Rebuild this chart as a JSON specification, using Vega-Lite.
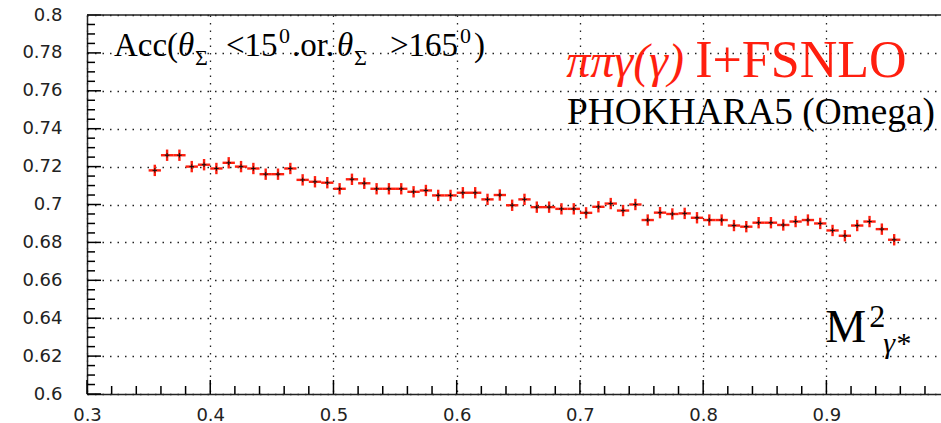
{
  "$schema": "https://vega.github.io/schema/vega-lite/v6.json",
  "width": 854,
  "height": 379,
  "autosize": {"type": "none"},
  "padding": {"left": 87, "right": 0, "top": 15, "bottom": 29},
  "background": "white",
  "config": {"view": {"stroke": null}},
  "datasets": {
    "pts": [
      {"x": 0.355, "y": 0.718, "ex": 0.005, "ey": 0.003},
      {"x": 0.365, "y": 0.726, "ex": 0.005, "ey": 0.003},
      {"x": 0.375, "y": 0.726, "ex": 0.005, "ey": 0.003},
      {"x": 0.385, "y": 0.720, "ex": 0.005, "ey": 0.003},
      {"x": 0.395, "y": 0.721, "ex": 0.005, "ey": 0.003},
      {"x": 0.405, "y": 0.719, "ex": 0.005, "ey": 0.003},
      {"x": 0.415, "y": 0.722, "ex": 0.005, "ey": 0.003},
      {"x": 0.425, "y": 0.720, "ex": 0.005, "ey": 0.003},
      {"x": 0.435, "y": 0.719, "ex": 0.005, "ey": 0.003},
      {"x": 0.445, "y": 0.716, "ex": 0.005, "ey": 0.003},
      {"x": 0.455, "y": 0.716, "ex": 0.005, "ey": 0.003},
      {"x": 0.465, "y": 0.719, "ex": 0.005, "ey": 0.003},
      {"x": 0.475, "y": 0.713, "ex": 0.005, "ey": 0.003},
      {"x": 0.485, "y": 0.712, "ex": 0.005, "ey": 0.003},
      {"x": 0.495, "y": 0.7115, "ex": 0.005, "ey": 0.003},
      {"x": 0.505, "y": 0.7083, "ex": 0.005, "ey": 0.003},
      {"x": 0.515, "y": 0.7133, "ex": 0.005, "ey": 0.003},
      {"x": 0.525, "y": 0.7112, "ex": 0.005, "ey": 0.003},
      {"x": 0.535, "y": 0.7083, "ex": 0.005, "ey": 0.003},
      {"x": 0.545, "y": 0.7083, "ex": 0.005, "ey": 0.003},
      {"x": 0.555, "y": 0.7083, "ex": 0.005, "ey": 0.003},
      {"x": 0.565, "y": 0.7067, "ex": 0.005, "ey": 0.003},
      {"x": 0.575, "y": 0.7074, "ex": 0.005, "ey": 0.003},
      {"x": 0.585, "y": 0.7048, "ex": 0.005, "ey": 0.003},
      {"x": 0.595, "y": 0.7048, "ex": 0.005, "ey": 0.003},
      {"x": 0.605, "y": 0.7062, "ex": 0.005, "ey": 0.003},
      {"x": 0.615, "y": 0.7062, "ex": 0.005, "ey": 0.003},
      {"x": 0.625, "y": 0.7027, "ex": 0.005, "ey": 0.003},
      {"x": 0.635, "y": 0.7050, "ex": 0.005, "ey": 0.003},
      {"x": 0.645, "y": 0.6996, "ex": 0.005, "ey": 0.003},
      {"x": 0.655, "y": 0.7027, "ex": 0.005, "ey": 0.003},
      {"x": 0.665, "y": 0.6986, "ex": 0.005, "ey": 0.003},
      {"x": 0.675, "y": 0.6986, "ex": 0.005, "ey": 0.003},
      {"x": 0.685, "y": 0.6977, "ex": 0.005, "ey": 0.003},
      {"x": 0.695, "y": 0.6977, "ex": 0.005, "ey": 0.003},
      {"x": 0.705, "y": 0.6956, "ex": 0.005, "ey": 0.003},
      {"x": 0.715, "y": 0.6988, "ex": 0.005, "ey": 0.003},
      {"x": 0.725, "y": 0.7005, "ex": 0.005, "ey": 0.003},
      {"x": 0.735, "y": 0.6968, "ex": 0.005, "ey": 0.003},
      {"x": 0.745, "y": 0.7000, "ex": 0.005, "ey": 0.003},
      {"x": 0.755, "y": 0.6918, "ex": 0.005, "ey": 0.003},
      {"x": 0.765, "y": 0.6957, "ex": 0.005, "ey": 0.003},
      {"x": 0.775, "y": 0.6950, "ex": 0.005, "ey": 0.003},
      {"x": 0.785, "y": 0.6953, "ex": 0.005, "ey": 0.003},
      {"x": 0.795, "y": 0.6930, "ex": 0.005, "ey": 0.003},
      {"x": 0.805, "y": 0.6918, "ex": 0.005, "ey": 0.003},
      {"x": 0.815, "y": 0.6918, "ex": 0.005, "ey": 0.003},
      {"x": 0.825, "y": 0.6889, "ex": 0.005, "ey": 0.003},
      {"x": 0.835, "y": 0.6883, "ex": 0.005, "ey": 0.003},
      {"x": 0.845, "y": 0.6904, "ex": 0.005, "ey": 0.003},
      {"x": 0.855, "y": 0.6904, "ex": 0.005, "ey": 0.003},
      {"x": 0.865, "y": 0.6892, "ex": 0.005, "ey": 0.003},
      {"x": 0.875, "y": 0.6910, "ex": 0.005, "ey": 0.003},
      {"x": 0.885, "y": 0.6918, "ex": 0.005, "ey": 0.003},
      {"x": 0.895, "y": 0.6900, "ex": 0.005, "ey": 0.003},
      {"x": 0.905, "y": 0.6863, "ex": 0.005, "ey": 0.003},
      {"x": 0.915, "y": 0.6835, "ex": 0.005, "ey": 0.003},
      {"x": 0.925, "y": 0.6889, "ex": 0.005, "ey": 0.003},
      {"x": 0.935, "y": 0.6910, "ex": 0.005, "ey": 0.003},
      {"x": 0.945, "y": 0.6870, "ex": 0.005, "ey": 0.003},
      {"x": 0.955, "y": 0.6814, "ex": 0.005, "ey": 0.003}
    ],
    "xmaj": [{"v": 0.3}, {"v": 0.4}, {"v": 0.5}, {"v": 0.6}, {"v": 0.7}, {"v": 0.8}, {"v": 0.9}],
    "xmin": [{"v": 0.32}, {"v": 0.34}, {"v": 0.36}, {"v": 0.38}, {"v": 0.42}, {"v": 0.44}, {"v": 0.46}, {"v": 0.48}, {"v": 0.52}, {"v": 0.54}, {"v": 0.56}, {"v": 0.58}, {"v": 0.62}, {"v": 0.64}, {"v": 0.66}, {"v": 0.68}, {"v": 0.72}, {"v": 0.74}, {"v": 0.76}, {"v": 0.78}, {"v": 0.82}, {"v": 0.84}, {"v": 0.86}, {"v": 0.88}, {"v": 0.92}, {"v": 0.94}, {"v": 0.96}, {"v": 0.98}],
    "ymaj": [{"v": 0.6}, {"v": 0.62}, {"v": 0.64}, {"v": 0.66}, {"v": 0.68}, {"v": 0.7}, {"v": 0.72}, {"v": 0.74}, {"v": 0.76}, {"v": 0.78}, {"v": 0.8}],
    "ymin": [{"v": 0.605}, {"v": 0.61}, {"v": 0.615}, {"v": 0.625}, {"v": 0.63}, {"v": 0.635}, {"v": 0.645}, {"v": 0.65}, {"v": 0.655}, {"v": 0.665}, {"v": 0.67}, {"v": 0.675}, {"v": 0.685}, {"v": 0.69}, {"v": 0.695}, {"v": 0.705}, {"v": 0.71}, {"v": 0.715}, {"v": 0.725}, {"v": 0.73}, {"v": 0.735}, {"v": 0.745}, {"v": 0.75}, {"v": 0.755}, {"v": 0.765}, {"v": 0.77}, {"v": 0.775}, {"v": 0.785}, {"v": 0.79}, {"v": 0.795}]
  },
  "resolve": {"axis": {"x": "independent", "y": "independent"}},
  "layer": [
    {
      "data": {"name": "pts"},
      "mark": {"type": "errorbar", "color": "#ff1f0f", "thickness": 2.4},
      "encoding": {
        "x": {"field": "x", "type": "quantitative",
          "scale": {"domain": [0.3, 0.993], "zero": false, "nice": false},
          "axis": {"orient": "bottom", "title": null, "values": [0.3, 0.4, 0.5, 0.6, 0.7, 0.8, 0.9], "format": ".1f",
            "ticks": false, "domainColor": "#222", "domainWidth": 1.5,
            "labelFont": "DejaVu Sans", "labelFontSize": 18, "labelColor": "#222", "labelPadding": 12,
            "grid": true, "gridColor": "#222", "gridDash": [1.5, 6], "gridWidth": 1.3, "labelFlush": false}},
        "xError": {"field": "ex"},
        "y": {"field": "y", "type": "quantitative",
          "scale": {"domain": [0.6, 0.8], "zero": false, "nice": false},
          "axis": {"orient": "left", "title": null, "values": [0.6, 0.62, 0.64, 0.66, 0.68, 0.7, 0.72, 0.74, 0.76, 0.78, 0.8], "format": ".2~f",
            "ticks": false, "domainColor": "#222", "domainWidth": 1.5,
            "labelFont": "DejaVu Sans", "labelFontSize": 18, "labelColor": "#222", "labelPadding": 25,
            "grid": true, "gridColor": "#222", "gridDash": [1.5, 6], "gridWidth": 1.3, "labelFlush": false}}
      }
    },
    {
      "data": {"name": "pts"},
      "mark": {"type": "errorbar", "color": "#ff1f0f", "thickness": 2.4},
      "encoding": {
        "x": {"field": "x", "type": "quantitative", "scale": {"domain": [0.3, 0.993], "zero": false, "nice": false}, "axis": null},
        "y": {"field": "y", "type": "quantitative", "scale": {"domain": [0.6, 0.8], "zero": false, "nice": false}, "axis": null},
        "yError": {"field": "ey"}
      }
    },
    {
      "data": {"name": "pts"},
      "mark": {"type": "point", "shape": "M-1,0L1,0M0,-1L0,1", "filled": false, "stroke": "#111", "strokeWidth": 1, "size": 20, "opacity": 1},
      "encoding": {
        "x": {"field": "x", "type": "quantitative", "scale": {"domain": [0.3, 0.993], "zero": false, "nice": false}, "axis": null},
        "y": {"field": "y", "type": "quantitative", "scale": {"domain": [0.6, 0.8], "zero": false, "nice": false}, "axis": null}
      }
    },
    {
      "data": {"name": "xmaj"},
      "mark": {"type": "rule", "color": "#000", "strokeWidth": 1.5},
      "encoding": {
        "x": {"field": "v", "type": "quantitative", "scale": {"domain": [0.3, 0.993], "zero": false, "nice": false}, "axis": null},
        "y": {"datum": 0.6, "type": "quantitative", "scale": {"domain": [0.6, 0.8], "zero": false, "nice": false}, "axis": null},
        "y2": {"datum": 0.60739}
      }
    },
    {
      "data": {"name": "xmin"},
      "mark": {"type": "rule", "color": "#000", "strokeWidth": 1.5},
      "encoding": {
        "x": {"field": "v", "type": "quantitative", "scale": {"domain": [0.3, 0.993], "zero": false, "nice": false}, "axis": null},
        "y": {"datum": 0.6, "type": "quantitative", "scale": {"domain": [0.6, 0.8], "zero": false, "nice": false}, "axis": null},
        "y2": {"datum": 0.60422}
      }
    },
    {
      "data": {"name": "ymaj"},
      "mark": {"type": "rule", "color": "#000", "strokeWidth": 1.5},
      "encoding": {
        "y": {"field": "v", "type": "quantitative", "scale": {"domain": [0.6, 0.8], "zero": false, "nice": false}, "axis": null},
        "x": {"datum": 0.3, "type": "quantitative", "scale": {"domain": [0.3, 0.993], "zero": false, "nice": false}, "axis": null},
        "x2": {"datum": 0.31136}
      }
    },
    {
      "data": {"name": "ymin"},
      "mark": {"type": "rule", "color": "#000", "strokeWidth": 1.5},
      "encoding": {
        "y": {"field": "v", "type": "quantitative", "scale": {"domain": [0.6, 0.8], "zero": false, "nice": false}, "axis": null},
        "x": {"datum": 0.3, "type": "quantitative", "scale": {"domain": [0.3, 0.993], "zero": false, "nice": false}, "axis": null},
        "x2": {"datum": 0.3065}
      }
    },
    {
      "data": {"values": [{}]},
      "mark": {"type": "rule", "color": "#222", "strokeWidth": 1.5},
      "encoding": {
        "y": {"datum": 0.8, "type": "quantitative", "scale": {"domain": [0.6, 0.8], "zero": false, "nice": false}, "axis": null}
      }
    },
    {"data": {"values": [{}]}, "mark": {"type": "text", "text": "Acc(", "font": "Liberation Serif", "fontSize": 33, "align": "left", "baseline": "alphabetic", "dx": 0, "color": "black"},
     "encoding": {"x": {"datum": 0.3219, "type": "quantitative", "axis": null}, "y": {"datum": 0.7784, "type": "quantitative", "axis": null}}},
    {"data": {"values": [{}]}, "mark": {"type": "text", "text": "θ", "font": "Liberation Serif", "fontStyle": "italic", "fontSize": 33, "align": "left", "baseline": "alphabetic", "dx": 64, "color": "black"},
     "encoding": {"x": {"datum": 0.3219, "type": "quantitative", "axis": null}, "y": {"datum": 0.7784, "type": "quantitative", "axis": null}}},
    {"data": {"values": [{}]}, "mark": {"type": "text", "text": "Σ", "font": "Liberation Serif", "fontSize": 22, "align": "left", "baseline": "alphabetic", "dx": 81, "dy": 9, "color": "black"},
     "encoding": {"x": {"datum": 0.3219, "type": "quantitative", "axis": null}, "y": {"datum": 0.7784, "type": "quantitative", "axis": null}}},
    {"data": {"values": [{}]}, "mark": {"type": "text", "text": "<15", "font": "Liberation Serif", "fontSize": 33, "align": "left", "baseline": "alphabetic", "dx": 112, "color": "black"},
     "encoding": {"x": {"datum": 0.3219, "type": "quantitative", "axis": null}, "y": {"datum": 0.7784, "type": "quantitative", "axis": null}}},
    {"data": {"values": [{}]}, "mark": {"type": "text", "text": "0", "font": "Liberation Serif", "fontSize": 22, "align": "left", "baseline": "alphabetic", "dx": 165, "dy": -13, "color": "black"},
     "encoding": {"x": {"datum": 0.3219, "type": "quantitative", "axis": null}, "y": {"datum": 0.7784, "type": "quantitative", "axis": null}}},
    {"data": {"values": [{}]}, "mark": {"type": "text", "text": ".or.", "font": "Liberation Serif", "fontSize": 33, "align": "left", "baseline": "alphabetic", "dx": 178, "color": "black"},
     "encoding": {"x": {"datum": 0.3219, "type": "quantitative", "axis": null}, "y": {"datum": 0.7784, "type": "quantitative", "axis": null}}},
    {"data": {"values": [{}]}, "mark": {"type": "text", "text": "θ", "font": "Liberation Serif", "fontStyle": "italic", "fontSize": 33, "align": "left", "baseline": "alphabetic", "dx": 223, "color": "black"},
     "encoding": {"x": {"datum": 0.3219, "type": "quantitative", "axis": null}, "y": {"datum": 0.7784, "type": "quantitative", "axis": null}}},
    {"data": {"values": [{}]}, "mark": {"type": "text", "text": "Σ", "font": "Liberation Serif", "fontSize": 22, "align": "left", "baseline": "alphabetic", "dx": 240, "dy": 9, "color": "black"},
     "encoding": {"x": {"datum": 0.3219, "type": "quantitative", "axis": null}, "y": {"datum": 0.7784, "type": "quantitative", "axis": null}}},
    {"data": {"values": [{}]}, "mark": {"type": "text", "text": ">165", "font": "Liberation Serif", "fontSize": 33, "align": "left", "baseline": "alphabetic", "dx": 276, "color": "black"},
     "encoding": {"x": {"datum": 0.3219, "type": "quantitative", "axis": null}, "y": {"datum": 0.7784, "type": "quantitative", "axis": null}}},
    {"data": {"values": [{}]}, "mark": {"type": "text", "text": "0", "font": "Liberation Serif", "fontSize": 22, "align": "left", "baseline": "alphabetic", "dx": 346, "dy": -13, "color": "black"},
     "encoding": {"x": {"datum": 0.3219, "type": "quantitative", "axis": null}, "y": {"datum": 0.7784, "type": "quantitative", "axis": null}}},
    {"data": {"values": [{}]}, "mark": {"type": "text", "text": ")", "font": "Liberation Serif", "fontSize": 33, "align": "left", "baseline": "alphabetic", "dx": 360, "color": "black"},
     "encoding": {"x": {"datum": 0.3219, "type": "quantitative", "axis": null}, "y": {"datum": 0.7784, "type": "quantitative", "axis": null}}},
    {"data": {"values": [{}]}, "mark": {"type": "text", "text": "ππγ(γ)", "font": "Liberation Serif", "fontStyle": "italic", "fontSize": 48, "align": "left", "baseline": "alphabetic", "color": "#ff1f0f"},
     "encoding": {"x": {"datum": 0.6888, "type": "quantitative", "axis": null}, "y": {"datum": 0.7673, "type": "quantitative", "axis": null}}},
    {"data": {"values": [{}]}, "mark": {"type": "text", "text": "I+FSNLO", "font": "Liberation Serif", "fontSize": 52, "align": "left", "baseline": "alphabetic", "color": "#ff1f0f"},
     "encoding": {"x": {"datum": 0.7935, "type": "quantitative", "axis": null}, "y": {"datum": 0.7673, "type": "quantitative", "axis": null}}},
    {"data": {"values": [{}]}, "mark": {"type": "text", "text": "PHOKHARA5 (Omega)", "font": "Liberation Serif", "fontSize": 37.3, "align": "left", "baseline": "alphabetic", "color": "black"},
     "encoding": {"x": {"datum": 0.6896, "type": "quantitative", "axis": null}, "y": {"datum": 0.7425, "type": "quantitative", "axis": null}}},
    {"data": {"values": [{}]}, "mark": {"type": "text", "text": "M", "font": "Liberation Serif", "fontSize": 46, "align": "left", "baseline": "alphabetic", "color": "black"},
     "encoding": {"x": {"datum": 0.899, "type": "quantitative", "axis": null}, "y": {"datum": 0.6274, "type": "quantitative", "axis": null}}},
    {"data": {"values": [{}]}, "mark": {"type": "text", "text": "2", "font": "Liberation Serif", "fontSize": 32, "align": "left", "baseline": "alphabetic", "dx": 44, "dy": -15, "color": "black"},
     "encoding": {"x": {"datum": 0.899, "type": "quantitative", "axis": null}, "y": {"datum": 0.6274, "type": "quantitative", "axis": null}}},
    {"data": {"values": [{}]}, "mark": {"type": "text", "text": "γ*", "font": "Liberation Serif", "fontStyle": "italic", "fontSize": 30, "align": "left", "baseline": "alphabetic", "dx": 58, "dy": 11, "color": "black"},
     "encoding": {"x": {"datum": 0.899, "type": "quantitative", "axis": null}, "y": {"datum": 0.6274, "type": "quantitative", "axis": null}}}
  ]
}
